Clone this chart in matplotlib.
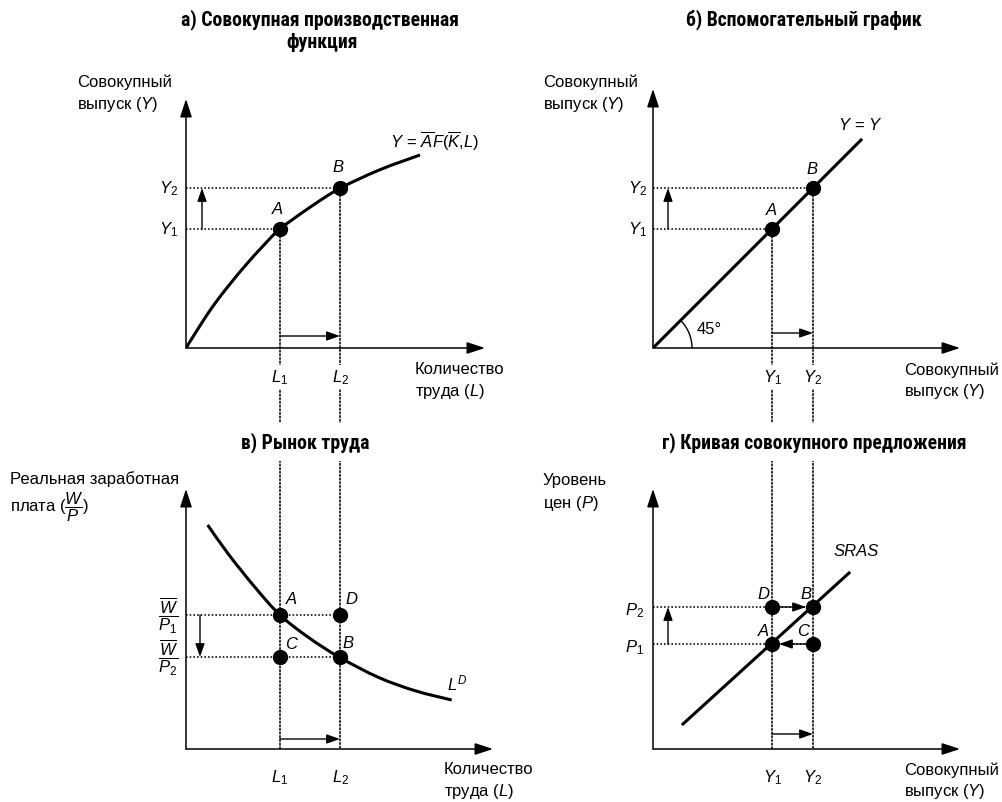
import matplotlib
matplotlib.use("Agg")
import matplotlib.pyplot as plt
from matplotlib.patches import ConnectionPatch, Arc, PathPatch
from matplotlib.path import Path
from matplotlib import font_manager
from matplotlib.font_manager import FontProperties

# ---------------- data (units: panel coordinates) ----------------
# panel a: aggregate production function
prod_L = [0, 1.4, 2.73, 4.4, 6.07, 7.73, 9.4, 12.4, 15.4, 19.4, 23.4]
prod_Y = [0, 2.23, 4.23, 6.4, 8.4, 10.23, 11.9, 14.07, 15.97, 17.83, 19.3]
L1, L2 = 9.4, 15.4
Y1, Y2 = 11.9, 16.0
# panel b: 45-degree line
line45 = [0, 20.8]
# panel c: labour demand
ld_L = [2.17, 4.23, 6.9, 9.4, 12.23, 15.3, 19.23, 22.9, 26.57]
ld_W = [22.4, 19.5, 16.17, 13.4, 11.17, 9.2, 7.17, 5.83, 4.9]
W1, W2 = 13.4, 9.2
# panel d: SRAS
sras_Y = [3.0, 19.6]
sras_P = [2.5, 17.6]
P1, P2 = 10.5, 14.2

W_PX, H_PX = 1003, 803
names = {f.name for f in font_manager.fontManager.ttflist}
BODY = "Liberation Sans" if "Liberation Sans" in names else "DejaVu Sans"

# pick a bold condensed face for titles if available
def find_title_font():
    prefs = ["Liberation Sans Narrow", "Roboto Condensed", "Noto Sans Condensed",
             "Noto Sans SemiCondensed", "Open Sans Condensed", "DejaVu Sans Condensed",
             "Noto Sans ExtraCondensed"]
    fl = font_manager.fontManager.ttflist
    for p in prefs:
        for f in fl:
            if f.name == p and f.style == "normal" and (f.weight in ("bold", 700) or
                                                       (isinstance(f.weight, int) and f.weight >= 700)):
                return f.fname, True
    for f in fl:
        if f.stretch in ("condensed", "semi-condensed", "extra-condensed") and f.style == "normal" \
                and (f.weight in ("bold",) or (isinstance(f.weight, int) and f.weight >= 700)):
            return f.fname, True
    return None, False

tfile, condensed = find_title_font()
if tfile:
    TITLE_FP = FontProperties(fname=tfile, size=14.2)
else:
    TITLE_FP = FontProperties(family=BODY, weight="bold", size=12.2)

plt.rcParams["font.family"] = [BODY, "DejaVu Sans"]
plt.rcParams["mathtext.fontset"] = "custom"
plt.rcParams["mathtext.rm"] = BODY
plt.rcParams["mathtext.it"] = BODY + ":italic"
plt.rcParams["mathtext.bf"] = BODY + ":bold"

fig = plt.figure(figsize=(W_PX / 100, H_PX / 100), dpi=100)

def make_ax(ox, oy, xmax, ymax):
    ax = fig.add_axes([ox / W_PX, (H_PX - oy) / H_PX, xmax * 10 / W_PX, ymax * 10 / H_PX])
    ax.set_xlim(0, xmax)
    ax.set_ylim(0, ymax)
    ax.axis("off")
    for tip in [(xmax, 0), (0, ymax)]:
        ax.annotate("", xy=tip, xytext=(0, 0), annotation_clip=False,
                    arrowprops=dict(arrowstyle="-|>,head_length=1.1,head_width=0.36",
                                    mutation_scale=10, lw=1.1, color="k", shrinkA=0, shrinkB=0))
    return ax

axA = make_ax(186, 349, 29.9, 24.9)
axB = make_ax(653, 349, 30.7, 25.9)
axC = make_ax(186, 750, 30.7, 26.0)
axD = make_ax(653, 750, 30.7, 26.0)

DOT = (0, (1, 1.3))
DOT_LW = 1.15
CURVE_LW = 2.2
MS = 10

def smooth_curve(ax, xs, ys):
    """Draw a smooth curve through the read points (cubic Bezier segments)."""
    pts = list(zip(xs, ys))
    n = len(pts)
    verts = [pts[0]]
    codes = [Path.MOVETO]
    for i in range(n - 1):
        p0 = pts[i - 1] if i > 0 else pts[i]
        p1 = pts[i]
        p2 = pts[i + 1]
        p3 = pts[i + 2] if i + 2 < n else pts[i + 1]
        c1 = (p1[0] + (p2[0] - p0[0]) / 6, p1[1] + (p2[1] - p0[1]) / 6)
        c2 = (p2[0] - (p3[0] - p1[0]) / 6, p2[1] - (p3[1] - p1[1]) / 6)
        verts += [c1, c2, p2]
        codes += [Path.CURVE4] * 3
    ax.add_patch(PathPatch(Path(verts, codes), fill=False, lw=CURVE_LW, ec="k",
                           capstyle="butt", joinstyle="round", zorder=3))

def hdot(ax, x1, y):
    ax.plot([0, x1], [y, y], ls=DOT, lw=DOT_LW, color="k", zorder=1, clip_on=False)

def small_arrow(ax, start, end, shrinkA=0, shrinkB=0):
    ax.annotate("", xy=end, xytext=start, annotation_clip=False,
                arrowprops=dict(arrowstyle="-|>,head_length=0.8,head_width=0.28",
                                mutation_scale=10, lw=1.0, color="k",
                                shrinkA=shrinkA, shrinkB=shrinkB), zorder=6)

def vcon(axTop, xy_top, axBot, x_bot):
    con = ConnectionPatch(xyA=xy_top, coordsA=axTop.transData,
                          xyB=(x_bot, 0), coordsB=axBot.transData,
                          linestyle=DOT, lw=DOT_LW, color="k", zorder=-1)
    fig.add_artist(con)

def ptxt(x, y, s, size=12, ha="left", va="center", **kw):
    fig.text(x / W_PX, 1 - y / H_PX, s, fontsize=size, ha=ha, va=va, **kw)

def ttl(x, y, s, white=False):
    kw = {}
    if white:
        kw["bbox"] = dict(fc="white", ec="none", pad=6)
    fig.text(x / W_PX, 1 - y / H_PX, s, ha="center", va="center",
             fontproperties=TITLE_FP, **kw)

WHITE = dict(fc="white", ec="none", pad=2)

# ---------------- panel a ----------------
smooth_curve(axA, prod_L, prod_Y)
hdot(axA, L1, Y1)
hdot(axA, L2, Y2)
axA.plot([L1, L2], [Y1, Y2], "o", ms=MS, color="k", zorder=5, clip_on=False)
small_arrow(axA, (1.6, Y1), (1.6, Y2))
small_arrow(axA, (L1, 1.2), (L2, 1.2))
vcon(axA, (L1, Y1), axC, L1)
vcon(axA, (L2, Y2), axC, L2)

# ---------------- panel b ----------------
axB.plot(line45, line45, color="k", lw=CURVE_LW)
hdot(axB, Y1, Y1)
hdot(axB, Y2, Y2)
axB.plot([Y1, Y2], [Y1, Y2], "o", ms=MS, color="k", zorder=5, clip_on=False)
small_arrow(axB, (1.5, Y1), (1.5, Y2))
small_arrow(axB, (Y1, 1.5), (Y2, 1.5))
axB.add_patch(Arc((0, 0), 7.8, 7.8, theta1=0, theta2=45, lw=1.0, color="k"))
vcon(axB, (Y1, Y1), axD, Y1)
vcon(axB, (Y2, Y2), axD, Y2)

# ---------------- panel c ----------------
smooth_curve(axC, ld_L, ld_W)
hdot(axC, L2, W1)
hdot(axC, L2, W2)
axC.plot([L1, L2, L1, L2], [W1, W1, W2, W2], "o", ms=MS, color="k", zorder=5, clip_on=False)
small_arrow(axC, (1.4, W1), (1.4, W2))
small_arrow(axC, (L1, 1.0), (L2, 1.0))

# ---------------- panel d ----------------
axD.plot(sras_Y, sras_P, color="k", lw=CURVE_LW)
hdot(axD, Y2, P2)
hdot(axD, Y2, P1)
axD.plot([Y1, Y2, Y1, Y2], [P1, P2, P2, P1], "o", ms=MS, color="k", zorder=5, clip_on=False)
small_arrow(axD, (1.5, P1), (1.5, P2))
small_arrow(axD, (Y1, 1.5), (Y2, 1.5))
small_arrow(axD, (Y1, P2), (Y2, P2), shrinkA=4, shrinkB=5)
small_arrow(axD, (Y2, P1), (Y1, P1), shrinkA=4, shrinkB=5)

# ---------------- titles ----------------
ttl(320, 20, "а) Совокупная производственная")
ttl(322, 42, "функция")
ttl(804, 20, "б) Вспомогательный график")
ttl(305, 443, "в) Рынок труда", white=True)
ttl(814, 443, "г) Кривая совокупного предложения", white=True)

# ---------------- axis titles ----------------
ptxt(77, 82, "Совокупный")
ptxt(77, 105, "выпуск ($Y$)")
ptxt(543, 82, "Совокупный")
ptxt(543, 105, "выпуск ($Y$)")
ptxt(415, 370, "Количество")
ptxt(415, 392, "труда ($L$)")
ptxt(904, 370, "Совокупный")
ptxt(904, 392, "выпуск ($Y$)")
ptxt(10, 479, "Реальная заработная")
ptxt(10, 507, r"плата ($\dfrac{W}{P}$)")
ptxt(444, 770, "Количество")
ptxt(444, 792, "труда ($L$)")
ptxt(543, 481, "Уровень")
ptxt(543, 504, "цен ($P$)")
ptxt(904, 770, "Совокупный")
ptxt(904, 792, "выпуск ($Y$)")

# ---------------- point and tick labels ----------------
IT = dict(style="italic")
# panel a
ptxt(338, 168, "B", ha="center", **IT)
ptxt(277, 210, "A", ha="center", **IT)
ptxt(435, 141, r"$Y\,\mathrm{=}\,\overline{A}F(\overline{K}{,}L)$", ha="center")
ptxt(178, 189, r"$Y_\mathrm{2}$", ha="right")
ptxt(178, 230, r"$Y_\mathrm{1}$", ha="right")
ptxt(280, 378, r"$L_\mathrm{1}$", ha="center", bbox=WHITE)
ptxt(341, 378, r"$L_\mathrm{2}$", ha="center", bbox=WHITE)
# panel b
ptxt(861, 125, r"$Y\,\mathrm{=}\,Y$", ha="center")
ptxt(812, 170, "B", ha="center", **IT)
ptxt(771, 211, "A", ha="center", **IT)
ptxt(647, 189, r"$Y_\mathrm{2}$", ha="right")
ptxt(647, 230, r"$Y_\mathrm{1}$", ha="right")
ptxt(697, 330, "45°")
ptxt(772, 378, r"$Y_\mathrm{1}$", ha="center", bbox=WHITE)
ptxt(813, 378, r"$Y_\mathrm{2}$", ha="center", bbox=WHITE)
# panel c
ptxt(291, 600, "A", ha="center", **IT)
ptxt(351, 600, "D", ha="center", **IT)
ptxt(291, 645, "C", ha="center", **IT)
ptxt(348, 644, "B", ha="center", **IT)
ptxt(457, 683, r"$L^D$", ha="center")
ptxt(168, 616, r"$\dfrac{\overline{W}}{P_\mathrm{1}}$", ha="center")
ptxt(168, 658, r"$\dfrac{\overline{W}}{P_\mathrm{2}}$", ha="center")
ptxt(280, 778, r"$L_\mathrm{1}$", ha="center")
ptxt(341, 778, r"$L_\mathrm{2}$", ha="center")
# panel d
ptxt(856, 552, "SRAS", ha="center", **IT)
ptxt(763, 595, "D", ha="center", **IT)
ptxt(806, 595, "B", ha="center", **IT)
ptxt(763, 632, "A", ha="center", **IT)
ptxt(803, 632, "C", ha="center", **IT)
ptxt(644, 611, r"$P_\mathrm{2}$", ha="right")
ptxt(644, 648, r"$P_\mathrm{1}$", ha="right")
ptxt(772, 778, r"$Y_\mathrm{1}$", ha="center")
ptxt(813, 778, r"$Y_\mathrm{2}$", ha="center")

fig.savefig("out.png", dpi=100)
